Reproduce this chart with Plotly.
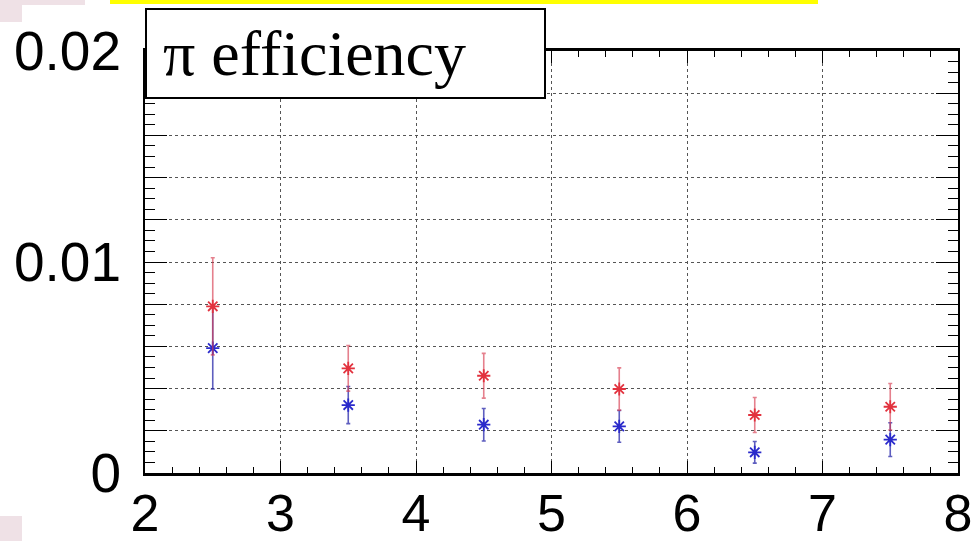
import plotly.graph_objects as go

# ---- data ----
bins = [2.5, 3.5, 4.5, 5.5, 6.5, 7.5]
eff_red = [0.0079, 0.00496, 0.00461, 0.00398, 0.00275, 0.00314]
err_red = [0.0023, 0.00108, 0.00106, 0.00100, 0.00083, 0.00110]
eff_blue = [0.00592, 0.00322, 0.00229, 0.00221, 0.00098, 0.00158]
err_blue = [0.00194, 0.00088, 0.00077, 0.00075, 0.00051, 0.00080]

x_ticks = [2, 3, 4, 5, 6, 7, 8]
x_ticktext = ["2", "3", "4", "5", "6", "7", "8"]
y_ticks = [0.0, 0.002, 0.004, 0.006, 0.008, 0.01, 0.012, 0.014, 0.016, 0.018, 0.02]
y_ticktext = ["0", "", "", "", "", "0.01", "", "", "", "", "0.02"]
title_text = "π efficiency"

# ---- layout geometry (pixels) ----
W, H = 973, 541
L, R, T, B = 145, 15, 51, 68
PW, PH = W - L - R, H - T - B


def px(x):
    return (x - L) / PW


def py(y):
    return (H - B - y) / PH


fig = go.Figure()

fig.add_trace(go.Scatter(
    x=bins, y=eff_blue, mode="markers",
    marker=dict(symbol="asterisk-open", size=11, color="#2a2acb",
                line=dict(color="#2a2acb", width=1.8)),
    error_y=dict(type="data", array=err_blue, color="rgba(40,40,170,0.75)",
                 thickness=1.6, width=2),
    showlegend=False, cliponaxis=False,
))
fig.add_trace(go.Scatter(
    x=bins, y=eff_red, mode="markers",
    marker=dict(symbol="asterisk-open", size=11, color="#e2323e",
                line=dict(color="#e2323e", width=1.8)),
    error_y=dict(type="data", array=err_red, color="rgba(215,60,80,0.65)",
                 thickness=1.6, width=2),
    showlegend=False, cliponaxis=False,
))

xlabel_font = dict(family="Liberation Sans Narrow, Liberation Sans, Arial", size=52, color="black")
ylabel_font = dict(family="Liberation Sans Narrow, Liberation Sans, Arial", size=55, color="black")

fig.update_xaxes(
    range=[2, 8], tickvals=x_ticks, ticktext=x_ticktext,
    tickfont=xlabel_font, ticks="inside", ticklen=12, tickwidth=1.2, tickcolor="black",
    ticklabelstandoff=-7, ticklabeloverflow="allow", automargin=False,
    showline=True, linecolor="black", linewidth=2.5, mirror="ticks",
    showgrid=True, gridcolor="#555555", gridwidth=1, griddash="dot",
    minor=dict(dtick=0.2, ticks="inside", ticklen=6, tickcolor="black", showgrid=False),
    zeroline=False,
)
fig.update_yaxes(
    range=[0, 0.02], tickvals=y_ticks, ticktext=y_ticktext,
    tickfont=ylabel_font, ticks="inside", ticklen=22, tickwidth=1.2, tickcolor="black",
    ticklabelstandoff=11, ticklabeloverflow="allow", automargin=False,
    showline=True, linecolor="black", linewidth=2, mirror="ticks",
    showgrid=True, gridcolor="#555555", gridwidth=1, griddash="dot",
    minor=dict(dtick=0.0005, ticks="inside", ticklen=10, tickcolor="black", showgrid=False),
    zeroline=False,
)

shapes = [
    # decorative slide elements
    dict(type="rect", xref="paper", yref="paper", x0=px(110), x1=px(818), y0=py(-2), y1=py(4),
         fillcolor="#ffff00", line=dict(width=0), layer="above"),
    dict(type="rect", xref="paper", yref="paper", x0=px(-2), x1=px(85), y0=py(-2), y1=py(5),
         fillcolor="#efe1e6", line=dict(width=0), layer="above"),
    dict(type="rect", xref="paper", yref="paper", x0=px(-2), x1=px(22), y0=py(-2), y1=py(22),
         fillcolor="#efe1e6", line=dict(width=0), layer="above"),
    dict(type="rect", xref="paper", yref="paper", x0=px(-2), x1=px(22), y0=py(516), y1=py(543),
         fillcolor="#efe1e6", line=dict(width=0), layer="above"),
    # title box
    dict(type="rect", xref="paper", yref="paper", x0=px(146), x1=px(545), y0=py(9), y1=py(98),
         fillcolor="white", line=dict(color="black", width=2), layer="above"),
]

fig.update_layout(
    width=W, height=H,
    margin=dict(l=L, r=R, t=T, b=B, autoexpand=False),
    paper_bgcolor="white", plot_bgcolor="white",
    shapes=shapes,
    annotations=[dict(
        text=title_text, xref="paper", yref="paper", x=px(161), y=py(53),
        xanchor="left", yanchor="middle", showarrow=False,
        font=dict(family="Liberation Serif, Times New Roman, serif", size=64, color="black"),
    )],
)

fig.write_html("out.html")
